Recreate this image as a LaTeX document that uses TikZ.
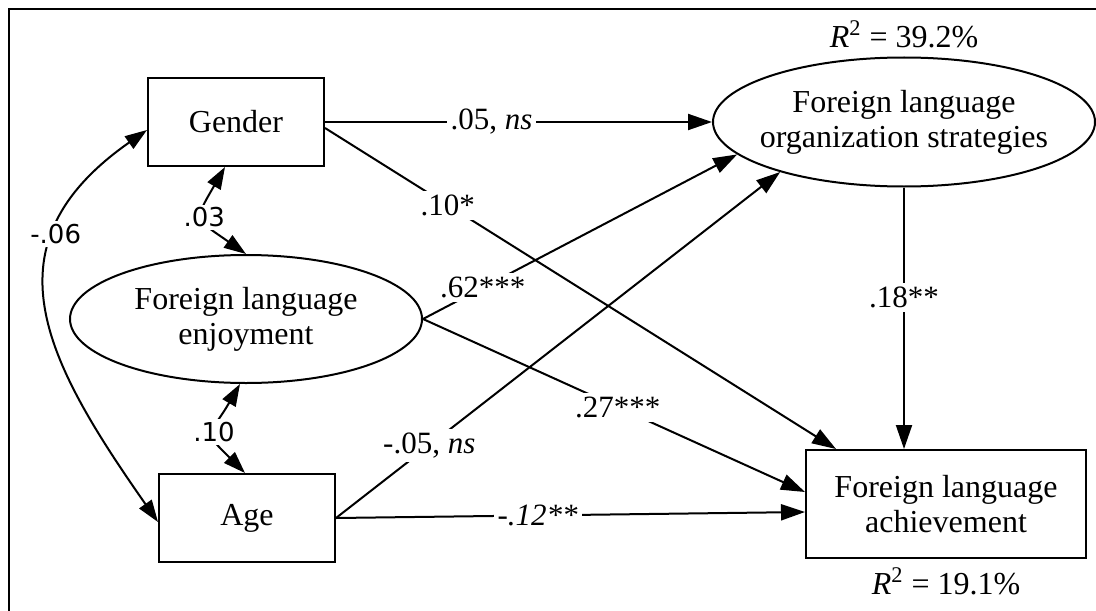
\documentclass[tikz,border=0pt]{standalone}
\usepackage{fontspec}
\setmainfont{Liberation Serif}
\newfontfamily\corrfont{DejaVu Sans}
\usepackage{tikz}
\usetikzlibrary{shapes.geometric,arrows.meta,positioning}

\begin{document}
\begin{tikzpicture}[
    x=0.5pt, y=0.5pt,
    observed/.style={rectangle, draw, line width=1pt, minimum width=88pt, minimum height=44pt, align=center, font=\fontsize{16}{17.5}\selectfont},
    latent/.style={ellipse, draw, line width=1pt, inner xsep=-6pt, inner ysep=0pt, align=center, font=\fontsize{16}{17.5}\selectfont},
    arrow/.style={-{Triangle[length=12pt, width=8pt]}, line width=1pt},
    twoway/.style={{Triangle[length=11pt, width=7.5pt]}-{Triangle[length=11pt, width=7.5pt]}, line width=1pt},
    coef/.style={fill=white, inner sep=2pt, font=\fontsize{15.5}{17}\selectfont},
    corr/.style={fill=white, inner sep=1.5pt, font=\corrfont\fontsize{13}{15}\selectfont},
    rsq/.style={inner sep=0pt, font=\fontsize{16}{17.5}\selectfont}
]
    \useasboundingbox (0,0) rectangle (1096,-610);
    % frame
    \draw[line width=1.2pt] (9,-612) -- (9,-9) -- (1098,-9);

    % Predictors
    \node[observed] (gender) at (236,-122) {Gender};
    \node[latent, minimum width=176pt, minimum height=64pt] (fle) at (246,-319) {Foreign language\\enjoyment};
    \node[observed] (age) at (247,-518) {Age};

    % Mediator and outcome
    \node[latent, minimum width=191pt, minimum height=64.5pt] (flos) at (904,-122) {Foreign language\\organization strategies};
    \node[observed, minimum width=140pt, minimum height=54pt] (fla) at (946,-504) {Foreign language\\achievement};

    % Explained variance
    \node[rsq, above=4pt of flos] (rsqflos) {\textit{R}\textsuperscript{2} = 39.2\%};
    \node[rsq, below=4pt of fla] (rsqfla) {\textit{R}\textsuperscript{2} = 19.1\%};

    % Paths
    \draw[arrow] (gender.east) -- node[coef, pos=0.43] {.05, \textit{ns}} (flos.west);
    \draw[arrow] ([yshift=-3pt]gender.east) -- node[coef, pos=0.24] {.10*} ([xshift=15.5pt]fla.north west);
    \draw[arrow] (fle.east) -- node[coef, pos=0.19] {.62***} (flos.191);
    \draw[arrow] (fle.east) -- node[coef, pos=0.51] {.27***} ([yshift=6pt]fla.west);
    \draw[arrow] (age.east) -- node[coef, pos=0.21] {-.05, \textit{ns}} (flos.202);
    \draw[arrow] (age.east) -- node[coef, pos=0.43] {\textit{-.12**}} ([yshift=-4pt]fla.west);
    \draw[arrow] (flos.south) -- node[coef, pos=0.42] {.18**} (flos.south |- fla.north);

    % Correlations
    \draw[twoway] ([yshift=-4pt]gender.west) to[out=215, in=125, looseness=1.3] node[corr, pos=0.3] {-.06} ([yshift=-2pt]age.west);
    \draw[twoway] ([xshift=-5.5pt]gender.south) to[out=240, in=145, looseness=1.8] node[corr, pos=0.5] {.03} (fle.north);
    \draw[twoway] ([xshift=-3pt]fle.south) to[out=240, in=135, looseness=1.8] node[corr, pos=0.5] {.10} ([xshift=-1pt]age.north);
\end{tikzpicture}
\end{document}
